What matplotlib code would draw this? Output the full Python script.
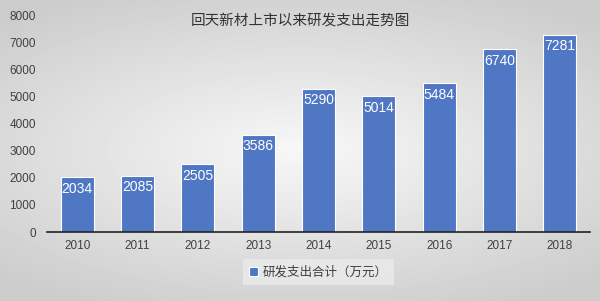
import numpy as np
import matplotlib.pyplot as plt

plt.rcParams['font.family'] = ['Noto Sans CJK SC', 'DejaVu Sans']

years = ['2010', '2011', '2012', '2013', '2014', '2015', '2016', '2017', '2018']
spend = [2034, 2085, 2505, 3586, 5290, 5014, 5484, 6740, 7281]
yticks = [0, 1000, 2000, 3000, 4000, 5000, 6000, 7000, 8000]

fig = plt.figure(figsize=(6, 3.01), dpi=100)

# gray gradient background, lighter in the middle
bg = fig.add_axes([0, 0, 1, 1], zorder=-10)
yy, xx = np.mgrid[-1:1:301j, -1:1:600j]
r = np.sqrt((xx * 0.9) ** 2 + (yy * 1.1) ** 2)
bg.imshow(0.97 - 0.17 * np.clip(r, 0, 1.3) / 1.3, cmap='gray', vmin=0, vmax=1,
          aspect='auto', extent=[0, 1, 0, 1])
bg.set_xlim(0, 1)
bg.set_ylim(0, 1)
bg.axis('off')

ax = fig.add_axes([47 / 600, 0.229, 543 / 600, 0.721])
ax.patch.set_alpha(0)
x = np.arange(len(years))
bars = ax.bar(x, spend, width=0.55, color='#5077c3', edgecolor='white',
              linewidth=0.8, label='研发支出合计（万元）')
for b, v in zip(bars, spend):
    ax.text(b.get_x() + b.get_width() / 2, v - 170, str(v), ha='center', va='top',
            color='white', fontsize=10, family=['Liberation Sans', 'DejaVu Sans'])

ax.set_ylim(0, 8000)
ax.set_xlim(-0.5, len(years) - 0.5)
ax.set_yticks(yticks)
ax.set_xticks(x, years)
ax.tick_params(length=0, labelsize=8.5, labelcolor='#404040')
for lbl in ax.get_xticklabels() + ax.get_yticklabels():
    lbl.set_family(['Liberation Sans', 'DejaVu Sans'])
ax.tick_params(axis='y', pad=8)
ax.tick_params(axis='x', pad=6)
for s in ['top', 'right', 'left']:
    ax.spines[s].set_visible(False)
ax.spines['bottom'].set_color('#222222')
ax.spines['bottom'].set_linewidth(1.2)

fig.text(0.5, 0.933, '回天新材上市以来研发支出走势图', ha='center', va='center',
         fontsize=10.5, color='#333333')

leg = ax.legend(loc='center', bbox_to_anchor=(0.5, -0.185), frameon=True,
                fontsize=9, handlelength=0.7, handleheight=0.7,
                handletextpad=0.4, borderpad=0.5, fancybox=False)
leg.get_frame().set_facecolor('#ebebeb')
leg.get_frame().set_edgecolor('none')
for t in leg.get_texts():
    t.set_color('#404040')

fig.savefig('out.png', dpi=100)
